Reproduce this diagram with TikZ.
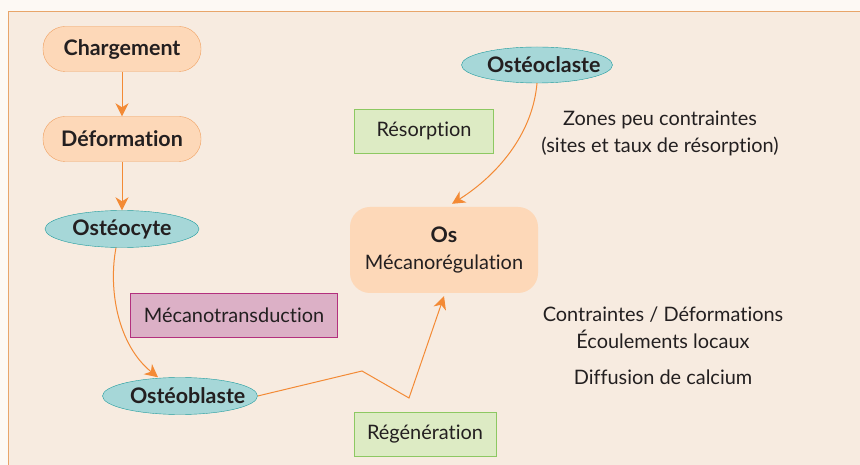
\documentclass[tikz,border=0pt]{standalone}
\usepackage{fontspec}
\setmainfont{Lato}[Ligatures=NoCommon]
\usetikzlibrary{arrows.meta,positioning,shapes.geometric}
\definecolor{fondext}{HTML}{FDF9F4}
\definecolor{fond}{HTML}{F7EBE0}
\definecolor{cadre}{HTML}{E8A56A}
\definecolor{peche}{HTML}{FDD8B8}
\definecolor{bordpeche}{HTML}{F0A060}
\definecolor{turq}{HTML}{A6D7D8}
\definecolor{bordturq}{HTML}{1E9B9E}
\definecolor{mauve}{HTML}{DCB0C6}
\definecolor{bordmauve}{HTML}{B3307E}
\definecolor{vert}{HTML}{DDEBC4}
\definecolor{bordvert}{HTML}{8DC862}
\definecolor{fleche}{HTML}{F38A35}
\definecolor{encre}{HTML}{231F20}
\newcommand\taille{\fontsize{20}{27}\selectfont}
\newcommand\tailleg{\fontsize{21.5}{27}\selectfont\bfseries}
\tikzset{
  etape/.style={draw=bordpeche,fill=peche,rounded corners=22bp,minimum width=158bp,minimum height=45bp,font=\tailleg},
  cellule/.style={ellipse,draw=bordturq,fill=turq,minimum width=154bp,minimum height=37bp,inner sep=0pt,text width=100bp,align=center,font=\tailleg},
  processus/.style={draw=#1,minimum height=44bp,inner xsep=8bp,font=\taille},
  fl/.style={draw=fleche,line width=1bp,-{Stealth[length=13bp,width=13bp,inset=4bp]}}
}
\begin{document}
\begin{tikzpicture}[x=1bp,y=-1bp,node distance=90bp,every node/.style={text=encre}]
\useasboundingbox (0,0) rectangle (860,465);
\fill[fondext] (0,0) rectangle (860,465);
\filldraw[fill=fond,draw=cadre,line width=1.5bp] (8.5,11.5) rectangle (880,480);
\node[etape](N1) at (122,49){Chargement};
\node[etape,below of = N1](N2){Déformation};
\node[cellule,below of = N2](N3){Ostéocyte};
\node[processus=bordmauve,fill=mauve,minimum width=207bp](N4) at (234,315){Mécanotransduction};
\node[cellule,minimum width=155bp](N5) at (180,396){Ostéoblaste};
\node[processus=bordvert,fill=vert,minimum width=142bp](N6) at (425,434){Régénération};
\node[fill=peche,rounded corners=20bp,minimum width=188bp,minimum height=86bp,align=center,font=\taille](N7) at (444,250){{\tailleg Os}\\Mécanorégulation};
\node[cellule,minimum width=151bp,minimum height=36bp](N8) at (537,65){Ostéoclaste};
\node[processus=bordvert,fill=vert,minimum width=139bp](N9) at (424,131){Résorption};
\node[align=center,font=\taille](N10) at (660,133){Zones peu contraintes\\(sites et taux de résorption)};
\node[align=center,font=\taille](N11) at (663,328){Contraintes / Déformations\\Écoulements locaux};
\node[font=\taille](N12) at (663,377){Diffusion de calcium};
\coordinate (C1) at (362,371);
\coordinate (C2) at (409,398);
\draw[fl] (N1) -- (N2);
\draw[fl] (N2) -- (N3);
\draw[fl] ([xshift=-6bp]N3.south) .. controls (108,290) and (118,345) .. ([xshift=-22bp]N5.north);
\draw[fl] (N5.east) -- (C1) -- (C2) -- ([yshift=-3bp]N7.south);
\draw[fl] (N8.south) .. controls (532,140) and (490,180) .. ([xshift=8bp,yshift=3bp]N7.north);
\end{tikzpicture}
\end{document}
